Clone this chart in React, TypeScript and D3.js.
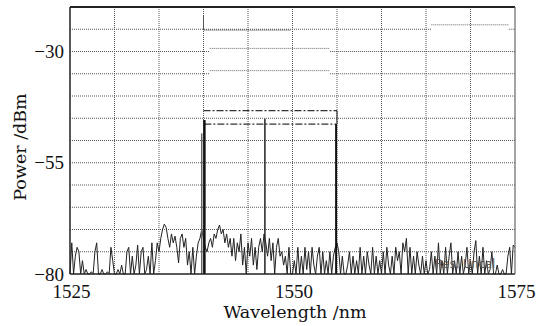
import * as d3 from 'd3';

// spectrum: noise floor sampled every 0.2 nm from 1525 to 1575 nm (dBm)
const startWl = 1525;
const stepWl = 0.2;
const noise = [
  -80, -73, -80, -76, -74, -75, -80, -77, -80, -79,
  -80, -80, -79.5, -80, -75, -73, -80, -80, -79, -80,
  -80, -79.5, -80, -74, -77, -80, -80, -79, -80, -78,
  -80, -80, -75, -74, -80, -76, -80, -78, -73.5, -80,
  -75, -74, -80, -79, -76, -80, -73, -80, -77, -73,
  -75, -72, -70, -68.8, -69.5, -72, -74, -71, -73, -71.5,
  -74, -77.5, -72, -71, -74, -72, -78, -75, -80, -74,
  -80, -76, -73, -72, -70, -72, -74, -75, -73, -72,
  -74, -71, -72, -70, -69, -71, -70, -73, -71, -74,
  -72, -76, -72, -77, -73, -75, -71, -78, -74, -80,
  -73, -76, -72, -78, -74, -79, -74, -72, -75, -71,
  -73, -76, -72, -77, -73, -80, -74, -72, -76, -75,
  -78, -76, -80, -74, -80, -80, -77, -80, -74, -80,
  -76, -80, -74, -79, -75, -80, -74, -78, -80, -76,
  -74, -80, -75, -80, -77, -80, -75, -80, -76, -74,
  -73, -75, -80, -76, -80, -80, -78, -75, -80, -76,
  -80, -77, -80, -74, -80, -76, -80, -75, -78, -80,
  -74, -80, -76, -80, -77, -80, -75, -80, -74, -78,
  -80, -76, -80, -74, -77, -75, -80, -73, -75, -72,
  -80, -74, -80, -76, -80, -75, -78, -80, -76, -80,
  -77, -80, -79, -75, -80, -76, -80, -73, -80, -77,
  -80, -74, -80, -76, -73, -80, -77, -80, -75, -80,
  -76, -80, -78, -74, -80, -77, -80, -75, -72.5, -80,
  -76, -80, -74, -80, -77, -80, -79, -75, -80, -80,
  -78, -80, -80, -79, -80, -80, -76, -74, -80, -73.5,
  -74,
];

// laser lines
const peakWl = [1539.8, 1540.1, 1546.9, 1554.9];
const peakTop = [-48.4, -45.4, -45.1, -46.3];
const peakWidth = [1.5, 2.5, 1.5, 2];
const peakColor = ['#666', '#111', '#222', '#111'];

// dash-dot marker levels spanning the lines
const markerLevels = [-43.3, -46.3];
const markerFrom = [1540.0, 1540.1];
const markerTo = [1555.0, 1554.9];

// OSA screen segments shifted off the grid
const shiftLevel = [-25.2, -29.3, -34.3, -24.0];
const shiftFrom = [1540.1, 1540.7, 1540.7, 1565.6];
const shiftTo = [1549.8, 1554.2, 1554.2, 1574.3];
const gapGrid = [-30, -35, -25];
const gapFrom = [1540.7, 1540.7, 1565.6];
const gapTo = [1554.2, 1554.2, 1574.3];

const xTicks = [1525, 1550, 1575];
const yTicks = [-30, -55, -80];
const xGrid = d3.range(1530, 1575, 5);
const yGrid = d3.range(-75, -20, 5);

const W = 540;
const H = 326;
const m = { left: 70, right: 515, top: 7, bottom: 274 };

export default function App() {
  const x = d3.scaleLinear().domain([1525, 1575]).range([m.left, m.right]);
  const y = d3.scaleLinear().domain([-80, -20]).range([m.bottom, m.top]);

  const trace = d3
    .line<number>()
    .x((_, i) => x(startWl + i * stepWl))
    .y((d) => y(d))(noise);

  // horizontal grid pieces with the gaps cut out
  const hSegments: { lv: number; a: number; b: number }[] = [];
  yGrid.forEach((lv) => {
    const gi = gapGrid.indexOf(lv);
    if (gi < 0) hSegments.push({ lv, a: 1525, b: 1575 });
    else {
      hSegments.push({ lv, a: 1525, b: gapFrom[gi] });
      hSegments.push({ lv, a: gapTo[gi], b: 1575 });
    }
  });

  const serif = "'DejaVu Serif', serif";
  const numFont = "'Liberation Serif', serif";

  return (
    <svg
      width={W}
      height={H}
      style={{ position: 'absolute', left: 0, top: 0, background: '#fff' }}
    >
      {/* grid */}
      <g stroke="#555" strokeWidth={1} strokeDasharray="1,1" fill="none">
        {xGrid.map((v) => (
          <line key={'vx' + v} x1={x(v)} x2={x(v)} y1={m.top} y2={m.bottom} />
        ))}
        {hSegments.map((s, i) => (
          <line key={'h' + i} x1={x(s.a)} x2={x(s.b)} y1={y(s.lv)} y2={y(s.lv)} />
        ))}
        {shiftLevel.map((lv, i) => (
          <line
            key={'s' + i}
            x1={x(shiftFrom[i])}
            x2={x(shiftTo[i])}
            y1={y(lv)}
            y2={y(lv)}
            stroke={i === 0 ? '#333' : '#666'}
          />
        ))}
        <line x1={x(1540)} x2={x(1540)} y1={y(-22)} y2={y(-25.2)} stroke="#444" />
      </g>

      {/* markers */}
      <g stroke="#333" strokeWidth={1.2} strokeDasharray="7,2,2,2" fill="none">
        {markerLevels.map((lv, i) => (
          <line
            key={'mk' + i}
            x1={x(markerFrom[i])}
            x2={x(markerTo[i])}
            y1={y(lv)}
            y2={y(lv)}
          />
        ))}
        <line
          x1={x(markerTo[0])}
          x2={x(markerTo[0])}
          y1={y(markerLevels[0])}
          y2={y(markerLevels[1])}
          strokeDasharray="none"
        />
      </g>

      {/* noise trace */}
      <path d={trace ?? ''} fill="none" stroke="#222" strokeWidth={1} />

      {/* peaks */}
      {peakWl.map((wl, i) => (
        <line
          key={'p' + i}
          x1={x(wl)}
          x2={x(wl)}
          y1={y(-80)}
          y2={y(peakTop[i])}
          stroke={peakColor[i]}
          strokeWidth={peakWidth[i]}
        />
      ))}

      <text
        x={x(1569.4)}
        y={268}
        fontFamily="'DejaVu Sans', sans-serif"
        fontSize={11.5}
        fill="#555"
        textAnchor="middle"
      >
        Res. Uncal
      </text>

      {/* frame */}
      <line x1={m.left} x2={m.right} y1={m.top} y2={m.top} stroke="#222" strokeWidth={2} />
      <line x1={m.left} x2={m.right} y1={m.bottom} y2={m.bottom} stroke="#222" strokeWidth={1.5} />
      <line x1={m.left} x2={m.left} y1={m.top} y2={m.bottom} stroke="#222" strokeWidth={1.5} />
      <line x1={m.right} x2={m.right} y1={m.top} y2={m.bottom} stroke="#666" strokeWidth={1.2} />

      {/* tick labels */}
      {yTicks.map((v) => (
        <text
          key={'yt' + v}
          x={64}
          y={y(v) + 6.5}
          textAnchor="end"
          fontFamily={numFont}
          fontSize={19}
          fill="#111"
        >
          {'\u2212' + Math.abs(v)}
        </text>
      ))}
      {xTicks.map((v) => (
        <text
          key={'xt' + v}
          x={x(v) + 1.5}
          y={298}
          textAnchor="middle"
          fontFamily={numFont}
          fontSize={19}
          fill="#111"
        >
          {v}
        </text>
      ))}

      {/* axis titles */}
      <text
        x={295}
        y={318}
        textAnchor="middle"
        fontFamily={serif}
        fontSize={17.5}
        fill="#111"
      >
        Wavelength /nm
      </text>
      <text
        transform="translate(26,147) rotate(-90)"
        textAnchor="middle"
        fontFamily={serif}
        fontSize={17.5}
        fill="#111"
      >
        Power /dBm
      </text>
    </svg>
  );
}
